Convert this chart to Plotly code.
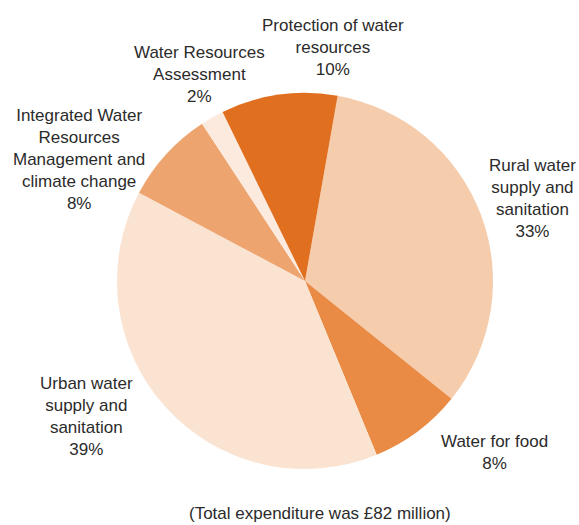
import plotly.graph_objects as go

# Expenditure shares, listed clockwise starting from the Rural slice
categories = [
    "Rural water<br>supply and<br>sanitation",
    "Water for food",
    "Urban water<br>supply and<br>sanitation",
    "Integrated Water<br>Resources<br>Management and<br>climate change",
    "Water Resources<br>Assessment",
    "Protection of water<br>resources",
]
shares = [33, 8, 39, 8, 2, 10]
colors = ["#F5CDAD", "#E98B44", "#FBE3D2", "#EEA46E", "#FDEADF", "#E07020"]

# Label anchor points (pixel centres) for each slice's caption
label_px = [(532, 198), (494, 452), (86, 416), (79, 159), (199, 75), (333, 47)]

W, H = 579, 525
cx, cy, r = 305, 281, 188

fig = go.Figure(
    go.Pie(
        labels=categories,
        values=shares,
        marker=dict(colors=colors, line=dict(width=0)),
        sort=False,
        direction="clockwise",
        rotation=10,
        textinfo="none",
        hoverinfo="label+percent",
        showlegend=False,
        domain=dict(
            x=[(cx - r) / W, (cx + r) / W],
            y=[1 - (cy + r) / H, 1 - (cy - r) / H],
        ),
    )
)

font = dict(family="Liberation Sans, Arial, sans-serif", size=17, color="#2b2b2b")

annotations = []
for name, val, (px, py) in zip(categories, shares, label_px):
    annotations.append(
        dict(
            text=f"{name}<br>{val}%",
            x=px / W,
            y=1 - py / H,
            xref="paper",
            yref="paper",
            showarrow=False,
            align="center",
            xanchor="center",
            yanchor="middle",
            font=font,
        )
    )
annotations.append(
    dict(
        text="(Total expenditure was £82 million)",
        x=320 / W,
        y=1 - 513 / H,
        xref="paper",
        yref="paper",
        showarrow=False,
        xanchor="center",
        yanchor="middle",
        font=font,
    )
)

fig.update_layout(
    width=W,
    height=H,
    margin=dict(l=0, r=0, t=0, b=0),
    paper_bgcolor="white",
    plot_bgcolor="white",
    annotations=annotations,
)

fig.write_html("out.html")
